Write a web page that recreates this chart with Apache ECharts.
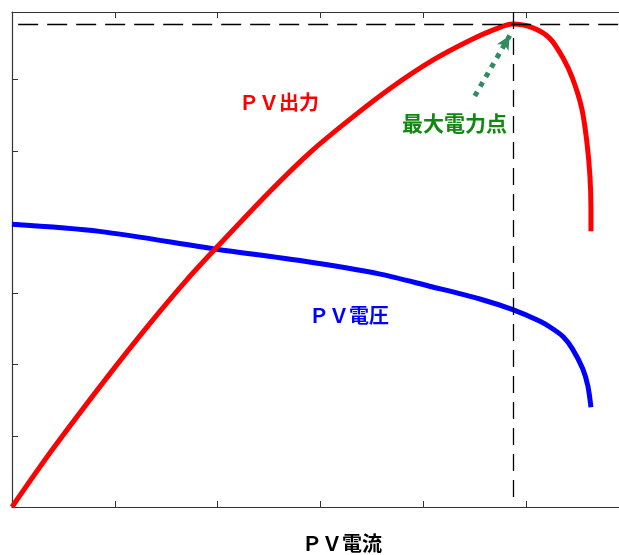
<!DOCTYPE html>
<html>
<head>
<meta charset="utf-8">
<script src="https://cdn.jsdelivr.net/npm/echarts@6/dist/echarts.min.js"></script>
<style>
  html, body { margin: 0; padding: 0; background: #fff; }
  #chart { width: 619px; height: 555px; }
</style>
</head>
<body>
<div id="chart"></div>
<script>
// PV出力 (x: 電流, y: 出力)
var powerX = [0, 0.4, 1.0, 1.4, 1.7, 2.0, 2.5, 2.9, 3.3, 3.7, 4.1, 4.45, 4.7, 4.87, 5.06, 5.23, 5.36, 5.45, 5.54, 5.59, 5.62, 5.63, 5.63];
var powerY = [0, 0.82, 1.96, 2.68, 3.19, 3.66, 4.42, 4.98, 5.46, 5.90, 6.28, 6.55, 6.71, 6.78, 6.73, 6.58, 6.30, 6.02, 5.60, 5.13, 4.65, 4.19, 3.87];

// PV電圧
var voltX = [0, 0.85, 1.99, 2.80, 3.58, 4.06, 4.55, 4.87, 5.13, 5.25, 5.36, 5.45, 5.55, 5.60, 5.63];
var voltY = [3.97, 3.87, 3.62, 3.46, 3.27, 3.10, 2.92, 2.77, 2.61, 2.51, 2.39, 2.22, 1.94, 1.70, 1.40];

// 最大電力点
var mppX = 4.87;
var mppY = 6.78;
var arrowFrom = [4.50, 5.77];
var arrowTo = [4.84, 6.62];

var xTicks = [0, 1, 2, 3, 4, 5, 6];

function pairs(xs, ys) {
    return xs.map(function (x, i) { return [x, ys[i]]; });
}

var chart = echarts.init(document.getElementById('chart'));

var cjk = '"Noto Sans CJK JP", "Noto Sans", sans-serif';

var axisCommon = {
    type: 'value', min: 0, max: xTicks[xTicks.length - 1], interval: 1,
    axisLine: { lineStyle: { color: '#333', width: 1.2 } },
    axisTick: { inside: true, length: 6, lineStyle: { color: '#333' } },
    axisLabel: { show: false },
    splitLine: { show: false }
};

var option = {
    animation: false,
    backgroundColor: '#fff',
    grid: { left: 12, top: 12, width: 617, bottom: 48, outerBoundsMode: 'none', containLabel: false, show: false },
    xAxis: [
        Object.assign({ position: 'bottom' }, axisCommon),
        Object.assign({ position: 'top' }, axisCommon)
    ],
    yAxis: {
        type: 'value', min: 0, max: 6.95, interval: 1,
        axisLine: { show: true, lineStyle: { color: '#333', width: 1.2 } },
        axisTick: { show: true, inside: true, length: 6, lineStyle: { color: '#333' } },
        axisLabel: { show: false },
        splitLine: { show: false }
    },
    series: [
        {
            name: 'ＰＶ電圧', type: 'line', data: pairs(voltX, voltY),
            smooth: 0.3, symbol: 'none',
            lineStyle: { color: '#0000ff', width: 5 }
        },
        {
            name: 'ＰＶ出力', type: 'line', data: pairs(powerX, powerY),
            smooth: 0.3, symbol: 'none',
            lineStyle: { color: '#ff0000', width: 5 },
            markLine: {
                silent: true,
                symbol: 'none',
                label: { show: false },
                data: [
                    [
                        { coord: [0.06, mppY], lineStyle: { color: '#000', width: 1.3, type: [20, 9] } },
                        { coord: [6, mppY] }
                    ],
                    [
                        { coord: [mppX, 6.95], lineStyle: { color: '#000', width: 1.3, type: [17, 9] } },
                        { coord: [mppX, 0.05] }
                    ],
                    [
                        { coord: arrowFrom, symbol: 'none', lineStyle: { color: '#2e8b62', width: 5, type: [5, 6] } },
                        { coord: arrowTo, symbol: 'arrow', symbolSize: [10, 14] }
                    ]
                ]
            }
        }
    ],
    graphic: [
        { type: 'text', left: 239, top: 92, style: { text: 'ＰＶ出力', fill: '#ff0000', font: 'bold 20px ' + cjk } },
        { type: 'text', left: 309, top: 305, style: { text: 'ＰＶ電圧', fill: '#0000ff', font: 'bold 20px ' + cjk } },
        { type: 'text', left: 402, top: 113, style: { text: '最大電力点', fill: '#118811', font: 'bold 21px ' + cjk } },
        { type: 'text', left: 302, top: 533, style: { text: 'ＰＶ電流', fill: '#000', font: 'bold 20px ' + cjk } }
    ]
};

chart.setOption(option);
</script>
</body>
</html>
